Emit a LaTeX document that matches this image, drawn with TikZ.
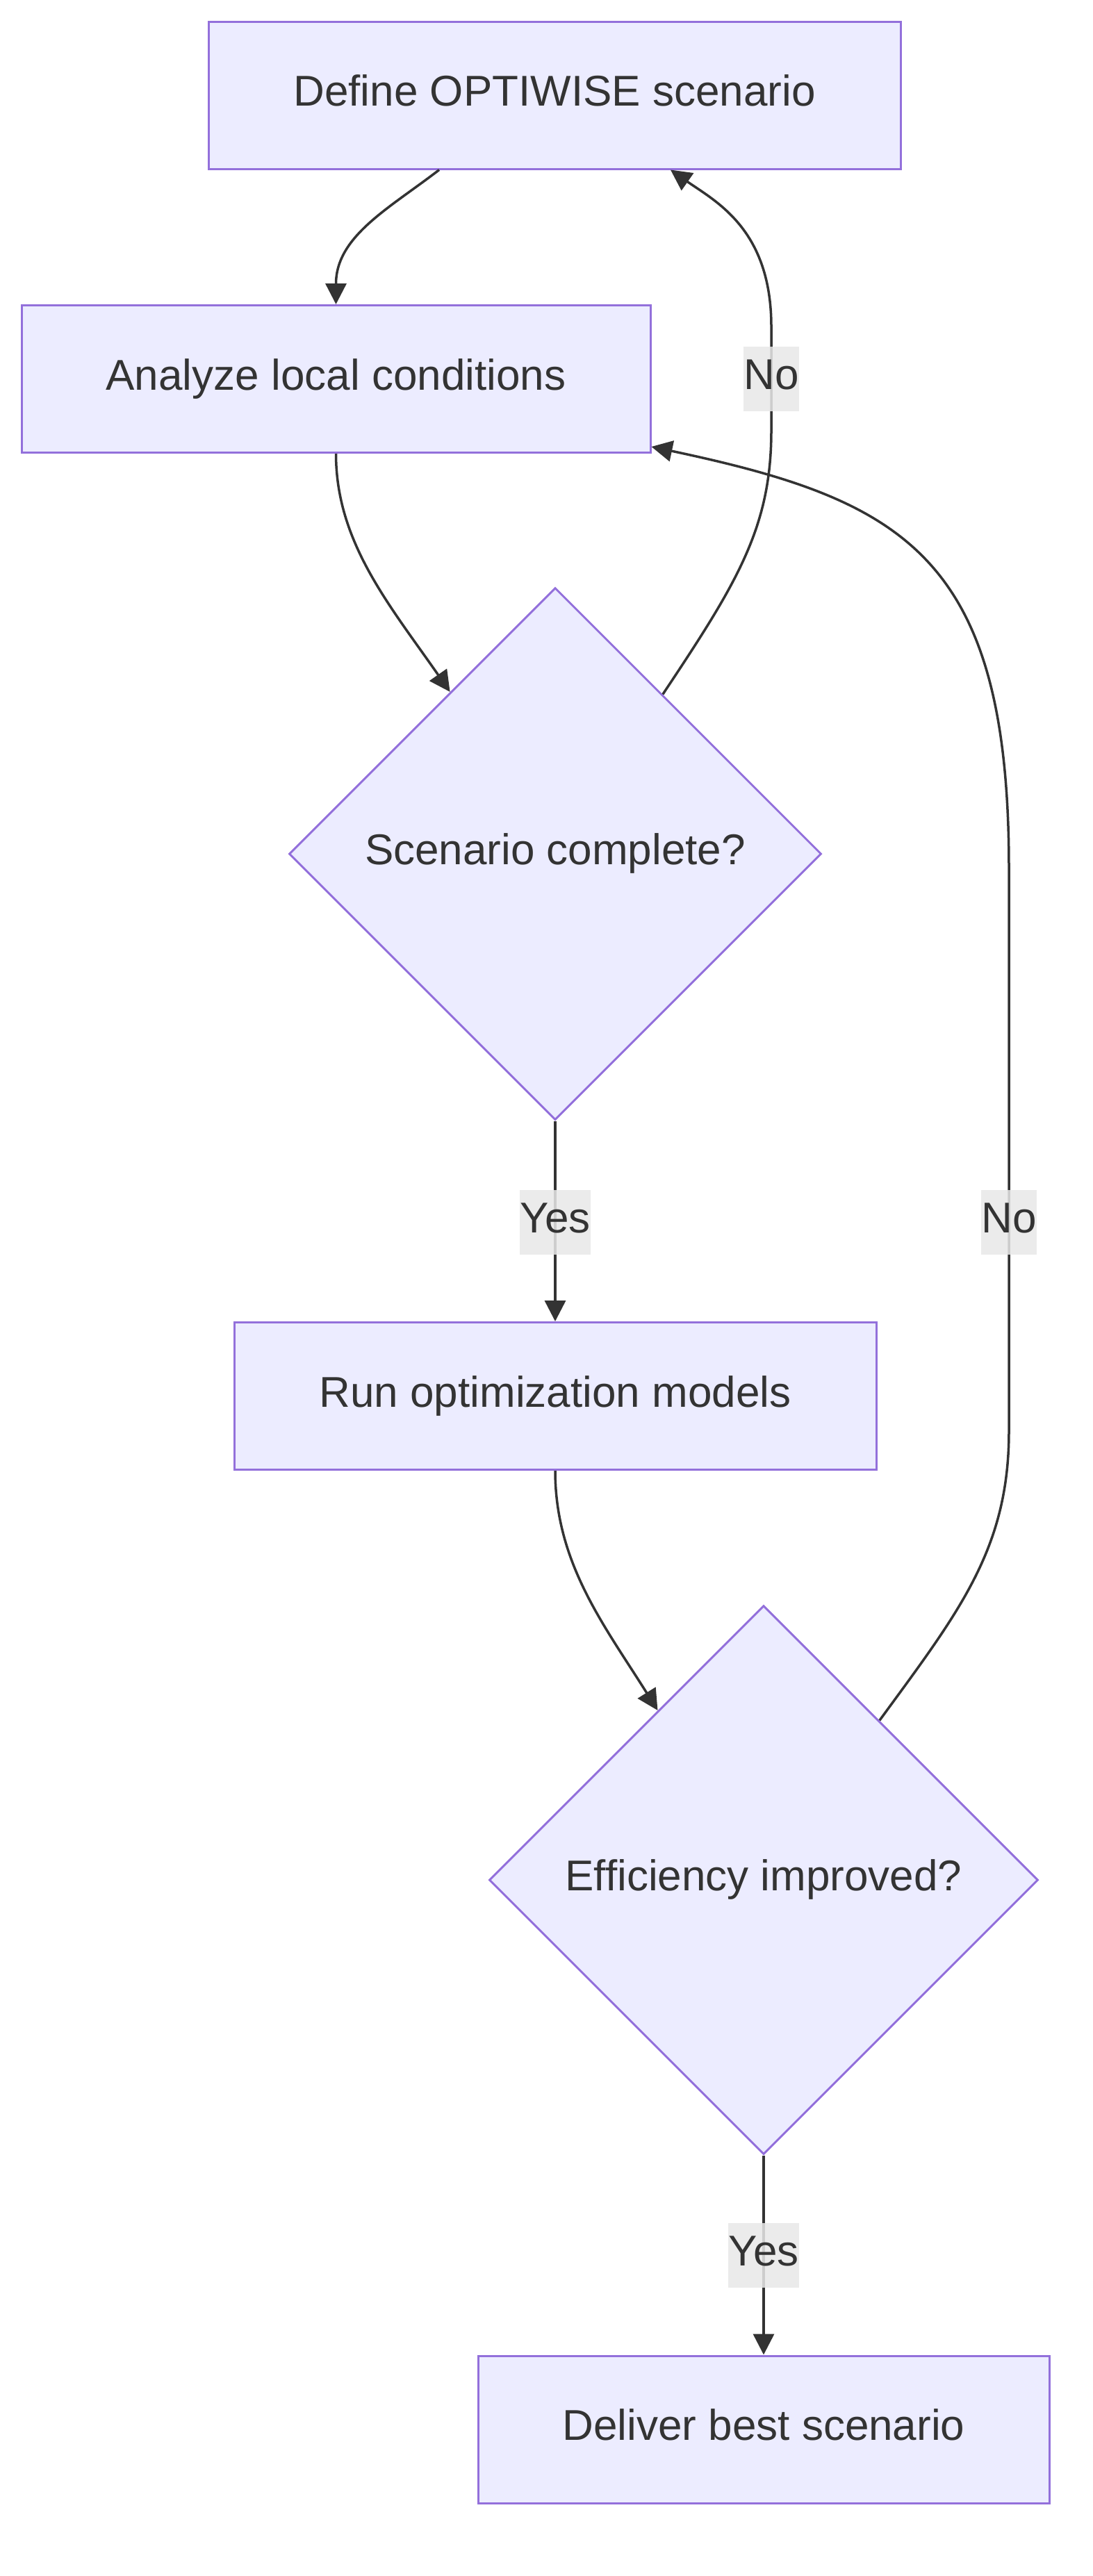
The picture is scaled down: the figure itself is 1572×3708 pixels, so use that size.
\documentclass[tikz,border=0pt]{standalone}
\usepackage{fontspec}
\setmainfont{Liberation Sans}
\usetikzlibrary{shapes.geometric,arrows.meta}
\definecolor{nodefill}{HTML}{ECECFF}
\definecolor{nodeline}{HTML}{9370DB}
\definecolor{edgecol}{HTML}{333333}
\definecolor{labelbg}{HTML}{E8E8E8}
\begin{document}
\begin{tikzpicture}[x=1pt,y=-1pt,
  txt/.style={text=edgecol,font=\fontsize{62}{74}\selectfont,text height=46.5pt,text depth=15.5pt},
  box/.style={txt,draw=nodeline,fill=nodefill,line width=3pt,minimum height=212pt,inner sep=0pt},
  dia/.style={txt,diamond,aspect=1,draw=nodeline,fill=nodefill,line width=3pt,inner sep=0pt},
  edge/.style={draw=edgecol,line width=3.5pt,-{Triangle[length=30pt,width=30pt]}},
  elabel/.style={txt,fill=labelbg,fill opacity=0.85,text opacity=1,inner xsep=0pt,inner ysep=0pt,minimum height=93pt}
]
\useasboundingbox (0,0) rectangle (1572,3708);

\node[box,minimum width=996pt] (b1) at (798,137) {Define OPTIWISE scenario};
\node[box,minimum width=905pt] (b2) at (483.5,545.5) {Analyze local conditions};
\node[dia,minimum width=766pt,minimum height=766pt] (d1) at (799,1229) {Scenario complete?};
\node[box,minimum width=924pt] (b3) at (799,2009.5) {Run optimization models};
\node[dia,minimum width=790pt,minimum height=790pt] (d2) at (1099,2706) {Efficiency improved?};
\node[box,minimum width=822pt] (b4) at (1099,3497) {Deliver best scenario};

\draw[edge] ([xshift=-166pt]b1.south) .. controls (560,300) and (483.5,340) .. (b2.north);
\draw[edge] (b2.south) .. controls (483.5,780) and (560,870) .. (d1.123);
\draw[edge] (d1.56) .. controls (1060,840) and (1110,760) .. (1110,620) -- (1110,470) .. controls (1110,330) and (1030,290) .. ([xshift=167pt]b1.south);
\draw[edge] (d1.south) -- (b3.north);
\draw[edge] (b3.south) .. controls (799,2250) and (870,2340) .. (d2.122);
\draw[edge] (d2.54) .. controls (1380,2320) and (1452,2230) .. (1452,2060) -- (1452,1250) .. controls (1452,800) and (1300,720) .. ([yshift=10pt]b2.south east);
\draw[edge] (d2.south) -- (b4.north);

\node[elabel] (l1) at (1110,545) {No};
\node[elabel] (l2) at (799,1759) {Yes};
\node[elabel] (l3) at (1452,1759) {No};
\node[elabel] (l4) at (1099,3246) {Yes};
\end{tikzpicture}
\end{document}
